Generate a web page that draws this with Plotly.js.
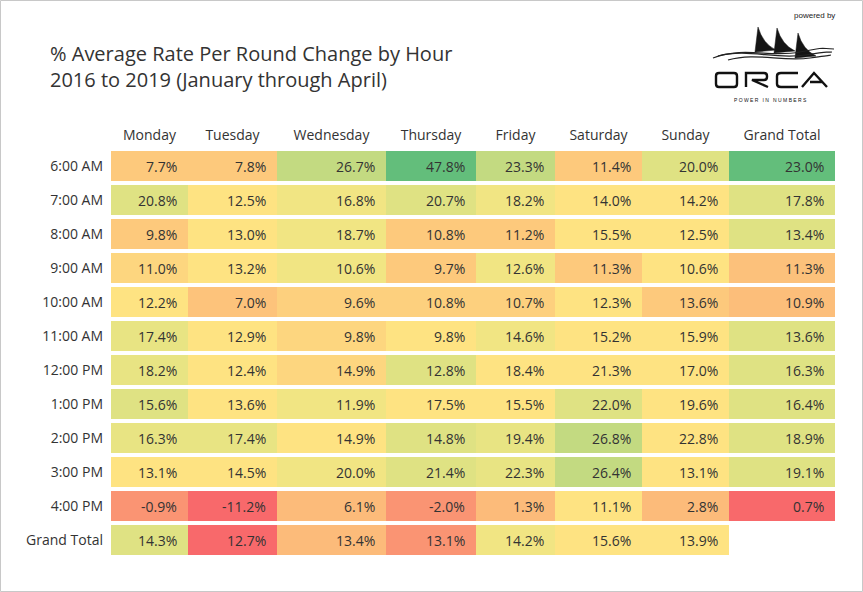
<!DOCTYPE html>
<html><head><meta charset="utf-8">
<script src="https://cdn.plot.ly/plotly-3.0.1.min.js"></script>
<style>html,body{margin:0;padding:0;background:#fff}</style>
</head><body>
<div id="chart" style="width:863px;height:592px"></div>
<script>
// ---- data ----
const days = ["Monday","Tuesday","Wednesday","Thursday","Friday","Saturday","Sunday","Grand Total"];
const hours = ["6:00 AM","7:00 AM","8:00 AM","9:00 AM","10:00 AM","11:00 AM","12:00 PM","1:00 PM","2:00 PM","3:00 PM","4:00 PM","Grand Total"];
// % change values (rows = hours, columns = days)
const pct = [
  [7.7, 7.8, 26.7, 47.8, 23.3, 11.4, 20.0, 23.0],
  [20.8, 12.5, 16.8, 20.7, 18.2, 14.0, 14.2, 17.8],
  [9.8, 13.0, 18.7, 10.8, 11.2, 15.5, 12.5, 13.4],
  [11.0, 13.2, 10.6, 9.7, 12.6, 11.3, 10.6, 11.3],
  [12.2, 7.0, 9.6, 10.8, 10.7, 12.3, 13.6, 10.9],
  [17.4, 12.9, 9.8, 9.8, 14.6, 15.2, 15.9, 13.6],
  [18.2, 12.4, 14.9, 12.8, 18.4, 21.3, 17.0, 16.3],
  [15.6, 13.6, 11.9, 17.5, 15.5, 22.0, 19.6, 16.4],
  [16.3, 17.4, 14.9, 14.8, 19.4, 26.8, 22.8, 18.9],
  [13.1, 14.5, 20.0, 21.4, 22.3, 26.4, 13.1, 19.1],
  [-0.9, -11.2, 6.1, -2.0, 1.3, 11.1, 2.8, 0.7],
  [14.3, 12.7, 13.4, 13.1, 14.2, 15.6, 13.9, null]
];
// colour measure (0 = worst .. 9 = best), read from the cell shading
const shade = [
  [3, 3, 8, 9, 8, 3, 7, 9],
  [7, 5, 6, 7, 6, 5, 5, 7],
  [3, 5, 6, 3, 3, 5, 5, 7],
  [4, 5, 6, 3, 6, 3, 5, 2.4],
  [5, 2.6, 3.5, 3.5, 3.5, 5, 3, 2.2],
  [6.5, 5, 4, 5, 6, 5, 5, 7],
  [6.5, 5, 4, 7, 5, 5, 5, 7],
  [7, 5, 6, 5, 5, 7, 5, 7],
  [6.5, 6.5, 5, 7, 6.5, 8, 5, 7],
  [5, 5, 6, 7, 6.5, 8, 5, 7],
  [1, 0, 2, 1, 2, 5, 2, 0],
  [7, 0, 2, 1, 6, 5, 5, null]
];

// ---- layout constants ----
const colWidths = [77, 89, 109, 90, 79, 87, 87, 106];
const edges = [0];
colWidths.forEach(w => edges.push(edges[edges.length-1] + w));
const centers = colWidths.map((w,i) => edges[i] + w/2);
const L = 111, T = 149, W = edges[edges.length-1], H = 408;
const FIG_W = 863, FIG_H = 592;
const px = x => (x - L) / W;
const py = y => 1 - (y - T) / H;

const palette = ["#f8696b","#fa9473","#fcbb7a","#fdc97c","#fdd67f","#fee382","#f1e583","#dfe283","#c3da81","#63be7b"];
const colorscale = palette.map((c,i) => [i/(palette.length-1), c]);

const heat = {
  type: "heatmap",
  x: edges,
  y: hours,
  z: shade,
  zmin: 0, zmax: 9,
  colorscale: colorscale,
  showscale: false,
  ygap: 4,
  hoverinfo: "skip"
};

const annotations = [];
pct.forEach((row, i) => {
  row.forEach((v, j) => {
    if (v === null) return;
    annotations.push({
      x: edges[j+1], y: hours[i], xref: "x", yref: "y",
      text: v.toFixed(1) + "%", showarrow: false, xanchor: "right", xshift: -9,
      font: {family: "Open Sans", size: 14, color: "#333"}
    });
  });
});
annotations.push({
  xref: "paper", yref: "paper", x: px(837), y: py(15), xanchor: "right", yanchor: "middle",
  text: "powered by", showarrow: false, font: {family: "Liberation Sans", size: 8, color: "#222"}
});
annotations.push({
  xref: "paper", yref: "paper", x: px(770), y: py(100), xanchor: "center", yanchor: "middle",
  text: "P O W E R   I N   N U M B E R S", showarrow: false, font: {family: "Liberation Sans", size: 5, color: "#111"}
});

function path(pts) {
  return pts.map(p => typeof p === "string" ? p : (px(p[0]).toFixed(5) + "," + py(p[1]).toFixed(5))).join(" ");
}
const shapes = [];
// border
shapes.push({type: "rect", xref: "paper", yref: "paper", x0: px(0.5), x1: px(862.5), y0: py(0.5), y1: py(591.5),
  line: {color: "#c8c8c8", width: 1}, fillcolor: "rgba(0,0,0,0)"});
// sails
[[758,27],[777,28],[798,33]].forEach(([tx,ty]) => {
  shapes.push({type: "path", xref: "paper", yref: "paper",
    path: "M " + path([[tx,ty]]) + " L " + path([[tx-3,ty+25]]) + " L " + path([[tx+18,ty+23]]) +
          " Q " + path([[tx+5,ty+17]]) + " " + path([[tx,ty]]) + " Z",
    fillcolor: "#151515", line: {color: "#151515", width: 0.5}});
});
// waves
const waves = [
  [[713,58],[745,46],[770,58],[800,52],[820,49],[834,49]],
  [[718,56],[748,48],[775,60],[805,55],[822,53],[832,52]],
  [[728,60],[755,52],[782,62],[810,58],[825,56],[831,55]]
];
waves.forEach(w => {
  shapes.push({type: "path", xref: "paper", yref: "paper",
    path: "M " + path([w[0]]) + " C " + path([w[1]]) + " " + path([w[2]]) + " " + path([w[3]]) +
          " S " + path([w[4]]) + " " + path([w[5]]),
    line: {color: "#222", width: 1.2}});
});
// ORCA letters
const letters = [
  "M " + path([[719,73]]) + " L " + path([[734,73]]) + " Q " + path([[737,73]]) + " " + path([[737,76]]) +
  " L " + path([[737,84]]) + " Q " + path([[737,87]]) + " " + path([[734,87]]) + " L " + path([[719,87]]) +
  " Q " + path([[716,87]]) + " " + path([[716,84]]) + " L " + path([[716,76]]) + " Q " + path([[716,73]]) + " " + path([[719,73]]) + " Z",
  "M " + path([[746,87]]) + " L " + path([[746,73]]) + " L " + path([[764,73]]) + " Q " + path([[767,73]]) + " " + path([[767,76]]) +
  " L " + path([[767,77]]) + " Q " + path([[767,80]]) + " " + path([[764,80]]) + " L " + path([[752,80]]) + " L " + path([[768,87]]),
  "M " + path([[798,73]]) + " L " + path([[781,73]]) + " Q " + path([[777,73]]) + " " + path([[777,76]]) +
  " L " + path([[777,84]]) + " Q " + path([[777,87]]) + " " + path([[781,87]]) + " L " + path([[798,87]]),
  "M " + path([[802,87]]) + " L " + path([[814,73]]) + " L " + path([[827,87]]) + " M " + path([[810,82]]) + " L " + path([[823,82]])
];
letters.forEach(p => shapes.push({type: "path", xref: "paper", yref: "paper", path: p, line: {color: "#111", width: 2.4}}));

const layout = {
  width: FIG_W, height: FIG_H,
  margin: {l: L, r: FIG_W - L - W, t: T, b: FIG_H - T - H, pad: 0},
  paper_bgcolor: "#fff", plot_bgcolor: "#fff",
  font: {family: "Open Sans", size: 14, color: "#333"},
  title: {
    text: "% Average Rate Per Round Change by Hour<br>2016 to 2019 (January through April)",
    xref: "container", yref: "container", x: 50/FIG_W, xanchor: "left",
    y: 1 - 61/FIG_H, yanchor: "middle",
    font: {family: "Open Sans", size: 20, color: "#333"}
  },
  xaxis: {
    range: [0, W], side: "top", tickmode: "array", tickvals: centers, ticktext: days,
    showgrid: false, zeroline: false, showline: false, ticks: "", fixedrange: true,
    ticklabelstandoff: 5,
    tickfont: {family: "Open Sans", size: 14, color: "#333"}
  },
  yaxis: {
    type: "category", autorange: "reversed", showgrid: false, zeroline: false, showline: false,
    ticks: "", fixedrange: true, ticklabelstandoff: 7,
    tickfont: {family: "Open Sans", size: 14, color: "#333"}
  },
  annotations: annotations,
  shapes: shapes,
  showlegend: false
};

Plotly.newPlot("chart", [heat], layout, {displayModeBar: false, staticPlot: true});
</script>
</body></html>
